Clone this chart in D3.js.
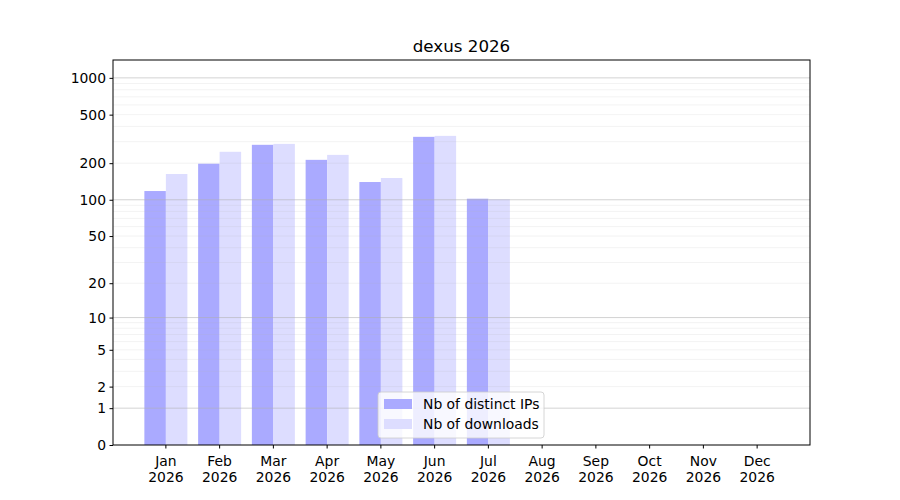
<!DOCTYPE html>
<html>
<head>
<meta charset="utf-8">
<script src="https://cdn.jsdelivr.net/npm/d3@7"></script>
<style>
  body { margin: 0; background: #fff; }
  text { font-family: "DejaVu Sans", sans-serif; }
</style>
</head>
<body>
<svg id="chart" width="900" height="500"></svg>
<script>
// values
const months = ["Jan", "Feb", "Mar", "Apr", "May", "Jun", "Jul", "Aug", "Sep", "Oct", "Nov", "Dec"]
const year = "2026"
const distinctIPs = [118, 198, 283, 213, 140, 329, 102, 0, 0, 0, 0, 0]
const downloads = [163, 248, 288, 234, 151, 335, 101, 0, 0, 0, 0, 0]
const yTicks = [0, 1, 2, 5, 10, 20, 50, 100, 200, 500, 1000]
const majorGrid = [1, 10, 100, 1000]
const minorGrid = [2,3,4,5,6,7,8,9, 20,30,40,50,60,70,80,90, 200,300,400,500,600,700,800,900]

const svg = d3.select("#chart")
const plotL = 113, plotR = 810, plotT = 60, plotB = 445
const tickFont = "13.9px"

const y = d3.scaleSymlog().constant(1).domain([0, 1400]).range([plotB, plotT])
// month slots: centre of Jan at 166, Dec at 757
const x = d3.scaleBand().domain(months).range([139, 784]).paddingInner(0).paddingOuter(0)
const barW = x.bandwidth() * 0.4

// bars
const g = svg.append("g")
months.forEach((m, i) => {
  const cx = x(m) + x.bandwidth() / 2
  if (distinctIPs[i] > 0) {
    g.append("rect")
      .attr("x", cx - barW).attr("y", y(distinctIPs[i]))
      .attr("width", barW).attr("height", plotB - y(distinctIPs[i]))
      .attr("fill", "#aaaaff")
  }
  if (downloads[i] > 0) {
    g.append("rect")
      .attr("x", cx).attr("y", y(downloads[i]))
      .attr("width", barW).attr("height", plotB - y(downloads[i]))
      .attr("fill", "#ddddff")
  }
})

// grid drawn over the bars, like the reference
svg.append("g").selectAll("line").data(minorGrid).join("line")
  .attr("x1", plotL).attr("x2", plotR)
  .attr("y1", d => y(d)).attr("y2", d => y(d))
  .attr("stroke", "#b0b0b0").attr("stroke-opacity", 0.2).attr("stroke-width", 0.8)
svg.append("g").selectAll("line").data(majorGrid).join("line")
  .attr("x1", plotL).attr("x2", plotR)
  .attr("y1", d => y(d)).attr("y2", d => y(d))
  .attr("stroke", "#b0b0b0").attr("stroke-opacity", 0.7).attr("stroke-width", 0.8)

// axes
const yAxis = d3.axisLeft(y).tickValues(yTicks).tickFormat(d3.format("d")).tickSize(3.5).tickPadding(3.5)
const yg = svg.append("g").attr("transform", `translate(${plotL},0)`).call(yAxis)
yg.select(".domain").remove()
yg.selectAll("text").attr("font-size", tickFont).attr("fill", "#000").attr("font-family", "DejaVu Sans")
yg.selectAll("line").attr("stroke", "#000")

const xAxis = d3.axisBottom(x).tickSize(3.5).tickPadding(3.5).tickFormat("")
const xg = svg.append("g").attr("transform", `translate(0,${plotB})`).call(xAxis)
xg.select(".domain").remove()
xg.selectAll("line").attr("stroke", "#000")
xg.selectAll(".tick").each(function(d) {
  const t = d3.select(this).select("text")
  t.text(null).attr("font-size", tickFont).attr("fill", "#000").attr("font-family", "DejaVu Sans").attr("dy", null).attr("y", 0)
  t.append("tspan").attr("x", 0).attr("y", 21).text(d)
  t.append("tspan").attr("x", 0).attr("y", 37).text(year)
})

// frame
svg.append("rect").attr("x", plotL).attr("y", plotT)
  .attr("width", plotR - plotL).attr("height", plotB - plotT)
  .attr("fill", "none").attr("stroke", "#000").attr("stroke-width", 1)

// title
svg.append("text").attr("x", (plotL + plotR) / 2).attr("y", 52)
  .attr("text-anchor", "middle").attr("font-size", "16.7px").text("dexus " + year)

// legend
const lg = svg.append("g").attr("transform", "translate(378,392)")
lg.append("rect").attr("width", 166).attr("height", 46).attr("rx", 3)
  .attr("fill", "#fff").attr("fill-opacity", 0.8).attr("stroke", "#ccc").attr("stroke-width", 0.8)
const legendItems = [["Nb of distinct IPs", "#aaaaff"], ["Nb of downloads", "#ddddff"]]
legendItems.forEach(([label, color], i) => {
  lg.append("rect").attr("x", 6).attr("y", 7 + i * 20).attr("width", 28).attr("height", 10).attr("fill", color)
  lg.append("text").attr("x", 45).attr("y", 17 + i * 20).attr("font-size", tickFont).text(label)
})
</script>
</body>
</html>
